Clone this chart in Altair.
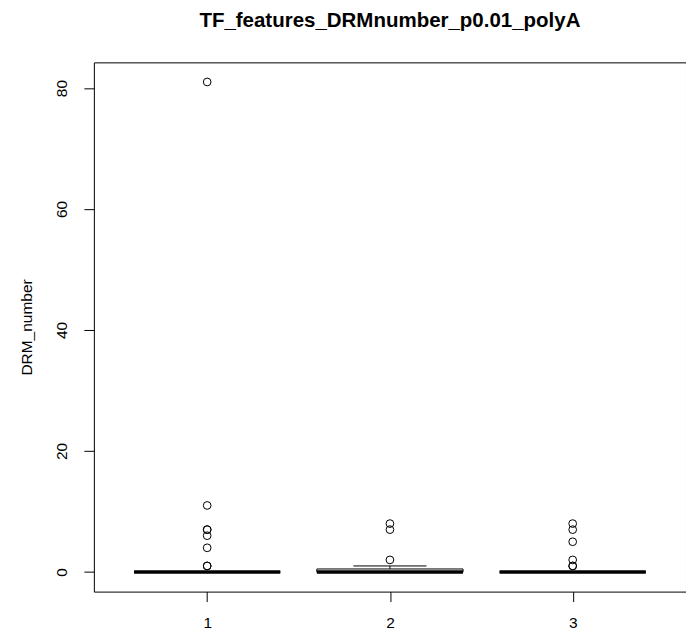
import altair as alt
import pandas as pd

# ---- data ----
groups = [1, 2, 3]
q1 = [0, 0, 0]
median = [0, 0, 0]
q3 = [0, 0.5, 0]
whisk_lo = [0, 0, 0]
whisk_hi = [0, 1, 0]

out_group = [1, 1, 1, 1, 1, 1, 1, 1, 2, 2, 2, 3, 3, 3, 3, 3, 3]
out_value = [81, 11, 7, 7, 6, 4, 1, 1, 8, 7, 2, 8, 7, 5, 2, 1, 1]

y_ticks = [0, 20, 40, 60, 80]
title_text = "TF_features_DRMnumber_p0.01_polyA"
y_title = "DRM_number"

FONT = "Liberation Sans"

box_df = pd.DataFrame({
    "g": groups, "q1": q1, "med": median, "q3": q3,
    "lo": whisk_lo, "hi": whisk_hi,
})
out_df = pd.DataFrame({"g": out_group, "v": out_value})

xscale = alt.Scale(domain=[0.38, 3.62], nice=False, zero=False)
yscale = alt.Scale(domain=[-3.24, 84.24], nice=False, zero=False)

xaxis = alt.Axis(values=groups, format="d", labelAngle=0, tickSize=10, labelPadding=21,
                 labelBaseline="middle", labelFontSize=15.5, labelFont=FONT,
                 labelColor="black", tickColor="black", domain=False,
                 grid=False, title=None)
yaxis = alt.Axis(values=y_ticks, format="d", labelAngle=270, tickSize=10, labelPadding=22,
                 labelAlign="center", labelBaseline="middle", labelFontSize=15.5,
                 labelFont=FONT, labelColor="black", tickColor="black",
                 domain=False, grid=False, title=y_title, titleAngle=270,
                 titleX=-67, titleY=265, titleAlign="center",
                 titleBaseline="middle", titleFontSize=15.5,
                 titleFontWeight="normal", titleFont=FONT, titleColor="black")

base = alt.Chart(box_df).transform_calculate(
    xl="datum.g - 0.4", xr="datum.g + 0.4",
    sl="datum.g - 0.2", sr="datum.g + 0.2",
)

boxes = base.mark_rect(fill="white", stroke="black", strokeWidth=1).encode(
    x=alt.X("xl:Q", scale=xscale, axis=xaxis),
    x2="xr:Q",
    y=alt.Y("q1:Q", scale=yscale, axis=yaxis),
    y2="q3:Q",
)

whiskers_up = base.mark_rule(color="black", strokeWidth=1, strokeDash=[4, 3]).encode(
    x=alt.X("g:Q", scale=xscale), y=alt.Y("q3:Q", scale=yscale), y2="hi:Q"
)
whiskers_dn = base.mark_rule(color="black", strokeWidth=1, strokeDash=[4, 3]).encode(
    x=alt.X("g:Q", scale=xscale), y=alt.Y("lo:Q", scale=yscale), y2="q1:Q"
)
staple_hi = base.mark_rule(color="black", strokeWidth=1).encode(
    x=alt.X("sl:Q", scale=xscale), x2="sr:Q", y=alt.Y("hi:Q", scale=yscale)
)
staple_lo = base.mark_rule(color="black", strokeWidth=1).encode(
    x=alt.X("sl:Q", scale=xscale), x2="sr:Q", y=alt.Y("lo:Q", scale=yscale)
)
medians = base.mark_rule(color="black", strokeWidth=3.5, strokeCap="butt").encode(
    x=alt.X("xl:Q", scale=xscale), x2="xr:Q", y=alt.Y("med:Q", scale=yscale)
)

points = alt.Chart(out_df).mark_point(
    shape="circle", filled=False, color="black", size=60, strokeWidth=1, opacity=1
).encode(
    x=alt.X("g:Q", scale=xscale),
    y=alt.Y("v:Q", scale=yscale),
)

chart = alt.layer(
    boxes, whiskers_up, whiskers_dn, staple_hi, staple_lo, medians, points
).properties(
    width=593,
    height=530,
    autosize=alt.AutoSizeParams(type="none"),
    padding={"left": 94, "top": 62, "right": 0, "bottom": 41},
    title=alt.TitleParams(title_text, fontSize=20.5, fontWeight="bold", font=FONT,
                          anchor="middle", baseline="alphabetic", offset=15,
                          color="black"),
    background="white",
).configure_view(stroke="black", strokeWidth=1)

chart.save("out.html", embed_options={"renderer": "svg", "actions": False})
